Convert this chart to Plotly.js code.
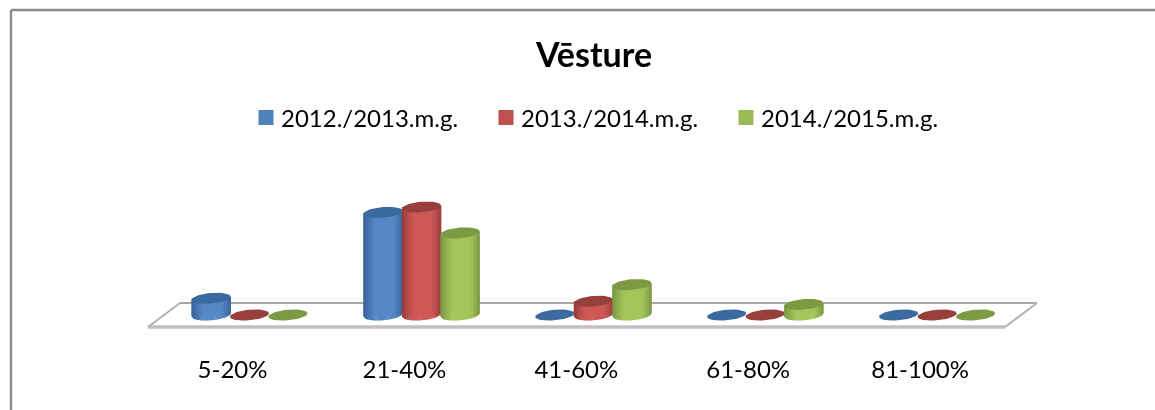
<!DOCTYPE html>
<html><head><meta charset="utf-8">
<script src="https://cdn.plot.ly/plotly-3.0.1.min.js"></script>
<style>html,body{margin:0;padding:0;background:#fff;overflow:hidden}#c{width:1155px;height:410px;filter:blur(0.6px)}</style>
</head><body><div id="c"></div>
<script>
const chartTitle = 'Vēsture';
const categories = ['5-20%','21-40%','41-60%','61-80%','81-100%'];
const seriesNames = ['2012./2013.m.g.','2013./2014.m.g.','2014./2015.m.g.'];
const values2012 = [2.2,13.5,0,0,0];
const values2013 = [0,14.2,1.8,0,0];
const values2014 = [0,10.8,4.0,1.4,0];
const seriesValues = [values2012,values2013,values2014];
const legendColors = ['#4f81bd','#c0504d','#9bbb59'];
const darkColors = [[52,96,148],[146,58,55],[116,146,62]];
const lightColors = [[86,136,200],[206,88,85],[163,198,92]];
const topColors = ['#3a6a9f','#973f3c','#7b9a42'];

const W=1155,H=410,axisPx=340,basePx=315,unitPx=7.6,stepPx=171.9,firstPx=249.5;
const barPx=38.5,hwPx=19.6,ehPx=5.3,tiltPx=1.6,labelShift=-17/stepPx;
const xr=[-firstPx/stepPx,(W-firstPx)/stepPx];
const yr=[(basePx-axisPx)/unitPx,basePx/unitPx];
const px=p=>p/stepPx, py=p=>p/unitPx;
const STRIPS=18;
function shade(i,t){const f=Math.min(1,Math.pow(Math.sin(Math.PI*Math.pow(t,1.12)),0.8)*1.25);
  const c=darkColors[i].map((d,k)=>Math.round(d+(lightColors[i][k]-d)*f));return 'rgb('+c.join(',')+')';}
const traces=[];
seriesNames.forEach((n,i)=>traces.push({type:'bar',name:n,x:categories.map((_,k)=>k),y:seriesValues[i],
  marker:{color:legendColors[i],line:{width:0}},showlegend:false,hoverinfo:'skip'}));
seriesNames.forEach((n,i)=>{
  const off=(i-1)*barPx;
  for(let s=0;s<STRIPS;s++){
    const xs=[],ys=[];
    const a=-1+2*s/STRIPS,b=-1+2*(s+1)/STRIPS+0.02;
    seriesValues[i].forEach((v,k)=>{
      if(v<=0)return;
      const cx=k+px(off);
      const low=u=>-py(ehPx)*Math.sqrt(Math.max(0,1-u*u))+py(tiltPx)*u;
      xs.push(cx+px(hwPx)*a,cx+px(hwPx)*b,cx+px(hwPx)*b,cx+px(hwPx)*a,cx+px(hwPx)*a,null);
      ys.push(low(a),low(b),v+py(tiltPx)*b,v+py(tiltPx)*a,low(a),null);
    });
    if(xs.length)traces.push({type:'scatter',mode:'lines',x:xs,y:ys,fill:'toself',fillcolor:shade(i,(s+.5)/STRIPS),line:{width:0},showlegend:false,hoverinfo:'skip'});
  }
  const ex=[],ey=[];
  seriesValues[i].forEach((v,k)=>{
    const cx=k+px(off);
    for(let d=0;d<=40;d++){const th=d/40*2*Math.PI,u=Math.cos(th);
      ex.push(cx+px(hwPx)*u);ey.push(v+py(ehPx)*Math.sin(th)+py(tiltPx)*u);}
    ex.push(null);ey.push(null);
  });
  traces.push({type:'scatter',mode:'lines',x:ex,y:ey,fill:'toself',fillcolor:topColors[i],line:{width:0},showlegend:false,hoverinfo:'skip'});
});
seriesNames.forEach((n,i)=>traces.push({type:'scatter',mode:'markers',name:n,x:[null],y:[null],
  marker:{symbol:'square',size:15,color:legendColors[i]},hoverinfo:'skip'}));

const X=p=>p/W;
function ln(x0,y0,x1,y1,c,w){return {type:'line',xref:'paper',yref:'paper',x0:X(x0),y0:(H-70-y0)/(H-70),x1:X(x1),y1:(H-70-y1)/(H-70),line:{color:c,width:w},layer:'below'};}
const shapes=[
  ln(11,10,1155,10,'#8c8c8c',2.4),
  ln(11,10,11,410,'#8c8c8c',2.4),
  ln(180,303,1037,303,'#a8a8a8',2.2),
  ln(148,327,1005,327,'#c0c0c0',3.4),
  ln(148,327,180,303,'#b0b0b0',2),
  ln(1005,327,1037,303,'#b0b0b0',2)
];
const layout={
  width:W,height:H,margin:{l:0,r:0,t:0,b:70},paper_bgcolor:'#fff',plot_bgcolor:'rgba(0,0,0,0)',
  font:{family:'Lato, Carlito, sans-serif',color:'#000'},
  title:{text:'<b>'+chartTitle+'</b>',font:{size:34,color:'#000'},x:594/W,xanchor:'center',y:1-55/H,yanchor:'middle'},
  barmode:'group',bargap:1-3*barPx/stepPx,bargroupgap:0,
  xaxis:{range:xr,tickmode:'array',tickvals:categories.map((_,k)=>k+labelShift),ticktext:categories,
    showgrid:false,zeroline:false,showline:false,ticks:'',ticklen:0,tickfont:{size:24},ticklabelstandoff:13,fixedrange:true},
  yaxis:{range:yr,visible:false,fixedrange:true},
  legend:{orientation:'h',x:246/W,xanchor:'left',y:(H-70-118)/(H-70),yanchor:'middle',font:{size:24},entrywidth:195,entrywidthmode:'pixels',itemwidth:30,bgcolor:'rgba(0,0,0,0)',traceorder:'normal'},
  shapes:shapes,showlegend:true
};
Plotly.newPlot('c',traces,layout,{displayModeBar:false,staticPlot:true}).then(()=>{
  document.querySelectorAll('.legendtext').forEach(t=>t.setAttribute('x',parseFloat(t.getAttribute('x'))-5));
});
</script></body></html>
